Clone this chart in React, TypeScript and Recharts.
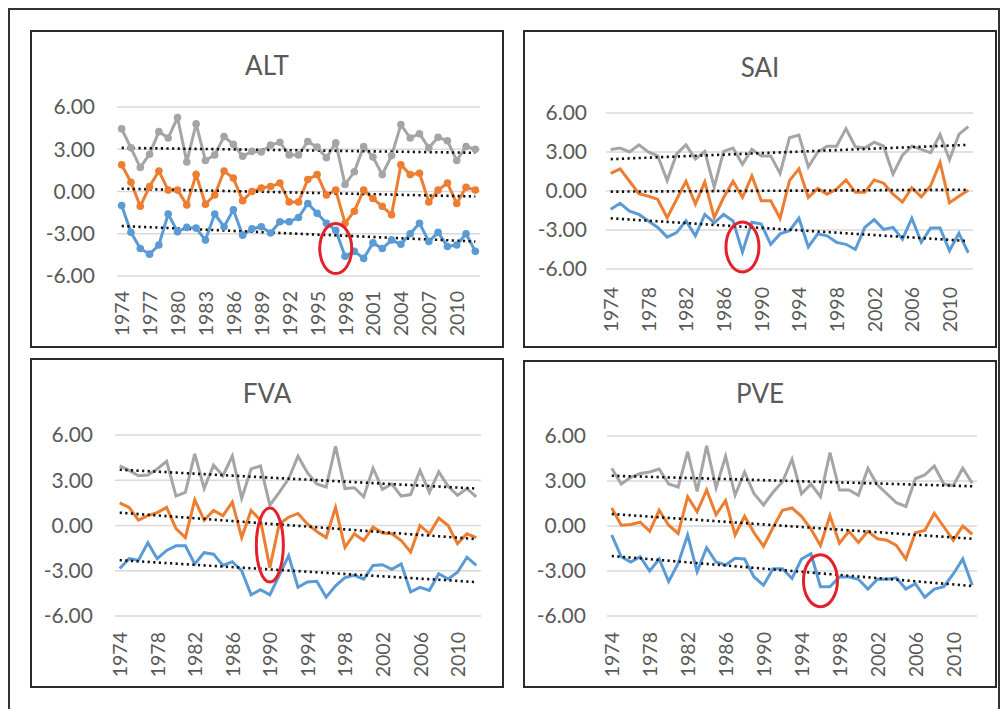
import {
  LineChart,
  Line,
  XAxis,
  YAxis,
  CartesianGrid,
  ReferenceLine,
  ReferenceDot,
} from "recharts";

const years = [
  1974, 1975, 1976, 1977, 1978, 1979, 1980, 1981, 1982, 1983, 1984, 1985, 1986,
  1987, 1988, 1989, 1990, 1991, 1992, 1993, 1994, 1995, 1996, 1997, 1998, 1999,
  2000, 2001, 2002, 2003, 2004, 2005, 2006, 2007, 2008, 2009, 2010, 2011, 2012,
];

const yTicks = [-6, -3, 0, 3, 6];

// ALT
const altGray = [4.45, 3.1, 1.7, 2.65, 4.25, 3.8, 5.25, 2.1, 4.8, 2.2, 2.6, 3.9, 3.35, 2.5, 2.85, 2.8, 3.3, 3.5, 2.6, 2.6, 3.55, 3.15, 2.4, 3.45, 0.5, 1.4, 3.2, 2.45, 1.2, 2.55, 4.75, 3.8, 4.1, 3.1, 3.85, 3.6, 2.2, 3.2, 3.0];
const altOrange = [1.9, 0.65, -1.05, 0.35, 1.45, 0.1, 0.1, -0.95, 1.2, -0.9, -0.25, 1.45, 0.95, -0.65, 0.0, 0.25, 0.35, 0.6, -0.75, -0.75, 0.85, 1.2, -0.25, 0.1, -2.25, -1.4, 0.1, -0.5, -1.05, -1.65, 1.9, 1.2, 1.3, -0.75, 0.1, 0.6, -0.85, 0.3, 0.1];
const altBlue = [-1.0, -2.9, -4.05, -4.45, -3.8, -1.6, -2.85, -2.55, -2.6, -3.45, -1.6, -2.5, -1.3, -3.1, -2.65, -2.5, -2.95, -2.15, -2.15, -1.85, -0.85, -1.55, -2.25, -2.75, -4.6, -4.25, -4.75, -3.65, -4.05, -3.45, -3.75, -3.0, -2.25, -3.55, -2.9, -3.9, -3.8, -3.0, -4.25];
const altTrendStart = [3.1, 0.2, -2.45];
const altTrendEnd = [2.75, -0.35, -3.55];

// SAI
const saiGray = [3.2, 3.3, 3.0, 3.55, 3.0, 2.7, 0.8, 2.85, 3.55, 2.45, 3.05, 0.3, 3.05, 3.3, 2.05, 3.2, 2.7, 2.7, 1.35, 4.1, 4.3, 1.85, 3.0, 3.45, 3.45, 4.8, 3.4, 3.3, 3.75, 3.45, 1.3, 2.75, 3.45, 3.2, 2.95, 4.35, 2.4, 4.35, 4.95];
const saiOrange = [1.35, 1.7, 0.75, -0.2, -0.4, -0.65, -2.05, -0.65, 0.75, -1.0, 0.7, -2.05, -0.5, 0.75, -0.5, 1.15, -0.75, -0.75, -2.1, 0.8, 1.7, -0.5, 0.2, -0.25, 0.15, 0.85, -0.1, -0.1, 0.85, 0.6, -0.25, -0.85, 0.25, -0.45, 0.4, 2.2, -0.9, -0.4, 0.05];
const saiBlue = [-1.4, -0.95, -1.55, -1.8, -2.3, -2.8, -3.55, -3.2, -2.3, -3.45, -1.8, -2.45, -1.8, -2.3, -4.7, -2.4, -2.55, -4.1, -3.3, -3.05, -2.1, -4.3, -3.3, -3.45, -3.95, -4.1, -4.5, -2.8, -2.2, -2.95, -2.8, -3.7, -2.1, -3.95, -2.85, -2.85, -4.6, -3.25, -4.75];
const saiTrendStart = [2.45, -0.05, -2.1];
const saiTrendEnd = [3.55, 0.1, -3.85];

// FVA
const fvaGray = [3.95, 3.65, 3.3, 3.35, 3.75, 4.25, 1.95, 2.2, 4.75, 2.45, 4.0, 3.3, 4.6, 1.8, 3.75, 3.95, 1.35, 2.2, 3.1, 4.6, 3.5, 2.75, 2.55, 5.25, 2.45, 2.5, 1.9, 3.8, 2.4, 2.75, 1.95, 2.05, 3.65, 2.2, 3.55, 2.6, 2.0, 2.45, 1.9];
const fvaOrange = [1.5, 1.2, 0.35, 0.65, 0.85, 1.2, -0.2, -0.8, 1.7, 0.35, 1.0, 0.65, 1.55, -0.8, 1.0, 0.35, -2.8, 0.1, 0.55, 0.8, 0.1, -0.4, -0.8, 1.2, -1.45, -0.55, -1.0, -0.1, -0.5, -0.55, -1.0, -1.75, 0.0, -0.55, 0.5, 0.0, -1.2, -0.55, -0.8];
const fvaBlue = [-2.85, -2.2, -2.3, -1.15, -2.2, -1.65, -1.35, -1.35, -2.55, -1.8, -1.9, -2.65, -2.4, -3.0, -4.6, -4.25, -4.6, -3.3, -2.0, -4.1, -3.75, -3.7, -4.75, -4.0, -3.45, -3.3, -3.55, -2.65, -2.6, -2.9, -2.55, -4.4, -4.1, -4.3, -3.2, -3.55, -3.1, -2.1, -2.65];
const fvaTrendStart = [3.7, 0.85, -2.3];
const fvaTrendEnd = [2.45, -0.9, -3.75];

// PVE
const pveGray = [3.85, 2.8, 3.25, 3.5, 3.6, 3.8, 2.8, 2.6, 4.95, 2.3, 5.35, 2.55, 4.65, 2.05, 3.6, 2.15, 1.4, 2.25, 2.95, 4.45, 2.15, 2.8, 1.95, 4.9, 2.4, 2.4, 2.05, 3.85, 2.75, 2.15, 1.55, 1.3, 3.15, 3.4, 4.0, 2.8, 2.7, 3.85, 2.85];
const pveOrange = [1.2, 0.05, 0.1, 0.25, -0.35, 1.05, 0.05, -0.5, 1.95, 0.95, 2.4, 0.75, 1.7, -0.6, 0.65, -0.45, -1.35, -0.1, 1.05, 1.2, 0.65, -0.2, -1.3, 0.7, -1.15, -0.35, -1.1, -0.35, -0.85, -0.95, -1.3, -2.2, -0.45, -0.3, 0.85, -0.05, -0.95, 0.0, -0.55];
const pveBlue = [-0.6, -2.05, -2.4, -2.05, -3.0, -2.2, -3.7, -2.5, -0.6, -3.05, -1.45, -2.4, -2.6, -2.15, -2.2, -3.4, -3.95, -2.85, -2.85, -3.5, -2.2, -1.85, -4.05, -4.05, -3.4, -3.4, -3.55, -4.2, -3.55, -3.55, -3.45, -4.2, -3.85, -4.75, -4.2, -4.05, -3.2, -2.2, -3.95];
const pveTrendStart = [3.35, 0.8, -2.0];
const pveTrendEnd = [2.65, -0.85, -4.0];

const COLORS = ["#a5a5a5", "#ed7d31", "#5b9bd5"];
const TEXT = "#595959";

interface Panel {
  title: string;
  series: number[][];
  trendStart: number[];
  trendEnd: number[];
  mark: { year: number; value: number; rx: number; ry: number };
  markers: boolean;
  interval: number;
  box: { left: number; top: number; width: number; height: number };
  plot: { left: number; top: number; right: number; bottom: number };
  yGap: number;
  xGap: number;
  titleTop: number;
}

const panels: Panel[] = [
  {
    title: "ALT",
    series: [altGray, altOrange, altBlue],
    trendStart: altTrendStart,
    trendEnd: altTrendEnd,
    mark: { year: 1997, value: -4.05, rx: 16, ry: 25 },
    markers: true,
    interval: 2,
    box: { left: 30, top: 30, width: 474, height: 318 },
    plot: { left: 87, top: 77, right: 24, bottom: 72 },
    yGap: 22,
    xGap: 15,
    titleTop: 20,
  },
  {
    title: "SAI",
    series: [saiGray, saiOrange, saiBlue],
    trendStart: saiTrendStart,
    trendEnd: saiTrendEnd,
    mark: { year: 1988, value: -4.3, rx: 16.5, ry: 25 },
    markers: false,
    interval: 3,
    box: { left: 523, top: 30, width: 474, height: 318 },
    plot: { left: 83, top: 83, right: 24, bottom: 79 },
    yGap: 19,
    xGap: 18,
    titleTop: 22,
  },
  {
    title: "FVA",
    series: [fvaGray, fvaOrange, fvaBlue],
    trendStart: fvaTrendStart,
    trendEnd: fvaTrendEnd,
    mark: { year: 1990, value: -1.3, rx: 13.5, ry: 37 },
    markers: false,
    interval: 3,
    box: { left: 30, top: 358, width: 474, height: 330 },
    plot: { left: 85, top: 77, right: 23, bottom: 72 },
    yGap: 22,
    xGap: 16,
    titleTop: 20,
  },
  {
    title: "PVE",
    series: [pveGray, pveOrange, pveBlue],
    trendStart: pveTrendStart,
    trendEnd: pveTrendEnd,
    mark: { year: 1996, value: -3.65, rx: 17, ry: 26 },
    markers: false,
    interval: 3,
    box: { left: 523, top: 360, width: 474, height: 328 },
    plot: { left: 84, top: 76, right: 20, bottom: 72 },
    yGap: 21,
    xGap: 16,
    titleTop: 18,
  },
];

function YearTick({ x, y, payload }: any) {
  return (
    <text
      transform={`translate(${x},${y}) rotate(-90)`}
      textAnchor="end"
      dominantBaseline="central"
      fontSize={19.5}
      fill={TEXT}
    >
      {payload.value}
    </text>
  );
}

function ChartPanel({ p }: { p: Panel }) {
  const data = years.map((year, i) => ({
    year,
    gray: p.series[0][i],
    orange: p.series[1][i],
    blue: p.series[2][i],
  }));
  const keys = ["gray", "orange", "blue"];
  // Excel puts each year in the middle of its slot, so pad half a slot on each side
  const plotWidth = p.box.width - p.plot.left - p.plot.right;
  const pad = plotWidth / (years.length * 2);
  const first = years[0];
  const last = years[years.length - 1];

  return (
    <div
      style={{
        position: "absolute",
        left: p.box.left,
        top: p.box.top,
        width: p.box.width,
        height: p.box.height,
      }}
    >
      <div
        style={{
          position: "absolute",
          inset: 0,
          border: "2px solid #2b2b2b",
          boxSizing: "border-box",
        }}
      />
      <div
        style={{
          position: "absolute",
          left: 0,
          width: p.box.width,
          top: p.titleTop,
          textAlign: "center",
          fontSize: 26,
          lineHeight: "30px",
          color: TEXT,
        }}
      >
        {p.title}
      </div>
      <div style={{ position: "absolute", left: 0, top: 0 }}>
        <LineChart
          width={p.box.width}
          height={p.box.height}
          data={data}
          margin={{ top: p.plot.top, right: p.plot.right, left: 0, bottom: 0 }}
        >
          <CartesianGrid vertical={false} stroke="#d9d9d9" strokeWidth={1.5} />
          <XAxis
            dataKey="year"
            interval={p.interval}
            padding={{ left: pad, right: pad }}
            height={p.plot.bottom}
            axisLine={false}
            tickLine={false}
            tickSize={0}
            tickMargin={p.xGap}
            tick={<YearTick />}
          />
          <YAxis
            domain={[-6, 6]}
            ticks={yTicks}
            width={p.plot.left}
            axisLine={false}
            tickLine={false}
            tickSize={0}
            tickMargin={p.yGap}
            tickFormatter={(v: number) => v.toFixed(2)}
            tick={{ fontSize: 21, fill: TEXT }}
          />
          {keys.map((k, i) => (
            <Line
              key={k}
              type="linear"
              dataKey={k}
              stroke={COLORS[i]}
              strokeWidth={3}
              dot={p.markers ? { r: 3.8, fill: COLORS[i], stroke: COLORS[i], strokeWidth: 0 } : false}
              activeDot={false}
              isAnimationActive={false}
            />
          ))}
          {/* linear trend lines, dotted */}
          {keys.map((k, i) => (
            <ReferenceLine
              key={`trend-${k}`}
              segment={[
                { x: first, y: p.trendStart[i] },
                { x: last, y: p.trendEnd[i] },
              ]}
              stroke="#111"
              strokeWidth={2.6}
              strokeDasharray="2.2 3.4"
              ifOverflow="visible"
            />
          ))}
          <ReferenceDot
            x={p.mark.year}
            y={p.mark.value}
            ifOverflow="visible"
            shape={(s: any) => (
              <ellipse
                cx={s.cx}
                cy={s.cy}
                rx={p.mark.rx}
                ry={p.mark.ry}
                fill="none"
                stroke="#e3212b"
                strokeWidth={3}
              />
            )}
          />
        </LineChart>
      </div>
    </div>
  );
}

export default function App() {
  return (
    <div
      style={{
        position: "absolute",
        left: 0,
        top: 0,
        width: 1002,
        height: 709,
        overflow: "hidden",
        background: "#fff",
        fontFamily: "Lato, 'Open Sans', sans-serif",
      }}
    >
      <div
        style={{
          position: "absolute",
          left: 8,
          top: 8,
          width: 992,
          height: 730,
          border: "2px solid #333",
          boxSizing: "border-box",
        }}
      />
      {panels.map((p) => (
        <ChartPanel key={p.title} p={p} />
      ))}
    </div>
  );
}
